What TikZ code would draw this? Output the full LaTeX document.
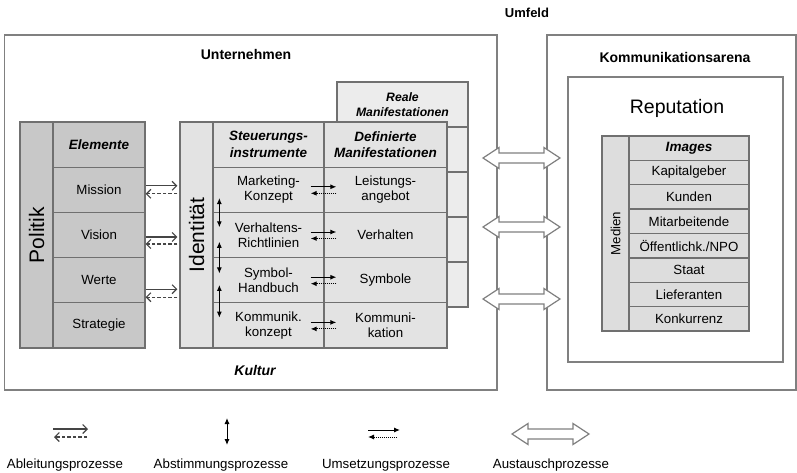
\documentclass[tikz,border=0pt]{standalone}
\usepackage{fontspec}
\setmainfont{Liberation Sans}
\usetikzlibrary{arrows.meta,calc}
\definecolor{lc}{HTML}{707070}
\definecolor{obox}{HTML}{808080}
\definecolor{polfill}{HTML}{C8C8C8}
\definecolor{idfill}{HTML}{E3E3E3}
\definecolor{refill}{HTML}{ECECEC}
\definecolor{medfill}{HTML}{DDDDDD}
\definecolor{arrc}{HTML}{454545}
\newcommand\xchgarrow[3]{%
  \draw[xarr] (#1,#3) -- (#1+16,#3-10.5) -- (#1+16,#3-5) -- (#2-16,#3-5) -- (#2-16,#3-10.5)
    -- (#2,#3) -- (#2-16,#3+10.5) -- (#2-16,#3+5) -- (#1+16,#3+5) -- (#1+16,#3+10.5) -- cycle;}
\tikzset{
 cell/.style={draw=lc, line width=1.3pt, inner sep=0pt, align=center, font=\fontsize{13.3}{15}\selectfont},
 hdr/.style={cell, font=\fontsize{13.5}{16.5}\selectfont\bfseries\itshape},
 big/.style={draw=obox, line width=1.3pt, inner sep=0pt},
 lbl/.style={font=\fontsize{14}{16}\selectfont\bfseries, anchor=base, inner sep=0pt},
 leg/.style={font=\fontsize{13.3}{15}\selectfont, anchor=base, inner sep=0pt},
 abl/.style={draw=arrc, line width=1.1pt, -{Straight Barb[length=4.5pt,width=9pt,line width=1.1pt]}},
 abldash/.style={abl, dash pattern=on 3.5pt off 2pt},
 ums/.style={draw=black, line width=1pt, -{Latex[length=6pt,width=5pt]}},
 umsdot/.style={ums, dash pattern=on 1pt off 1pt},
 abst/.style={draw=black, line width=1pt, {Latex[length=6pt,width=5pt]}-{Latex[length=6pt,width=5pt]}},
 xarr/.style={draw=obox, fill=white, line width=1.2pt, line join=miter},
}
\begin{document}
\begin{tikzpicture}[x=1pt,y=-1pt]
\useasboundingbox (0,0) rectangle (797,473);
\fill[white] (0,0) rectangle (797,473);

% outer boxes
\node[big, minimum width=492.5pt, minimum height=355pt] (unt) at (250.75,212.5) {};
\node[big, minimum width=249pt, minimum height=355pt] (arena) at (671.5,212.5) {};
\node[big, minimum width=215pt, minimum height=285pt] (repu) at (675.5,219.5) {};

% titles
\node[lbl, font=\fontsize{13}{15}\selectfont\bfseries] (umfeld) at (527,18) {Umfeld};
\node[lbl] (untt) at (246,60) {Unternehmen};
\node[lbl] (kat) at (675,63) {Kommunikationsarena};
\node[anchor=base, inner sep=0pt, font=\fontsize{19.5}{22}\selectfont] (rept) at (677,114) {Reputation};
\node[lbl, font=\fontsize{14}{16}\selectfont\bfseries\itshape] (kult) at (255,375) {Kultur};

% Reale Manifestationen (behind)
\node[hdr, fill=refill, minimum width=131pt, minimum height=45pt, font=\fontsize{12.2}{14.3}\selectfont\bfseries\itshape] (reale) at (402.5,104.5) {Reale\\Manifestationen};
\foreach \c/\nm in {149.5/r1,194.5/r2,239.5/r3,284.5/r4}
  \node[cell, fill=refill, minimum width=131pt, minimum height=45pt] (\nm) at (402.5,\c) {};

% Politik
\node[cell, fill=polfill, minimum width=33pt, minimum height=226pt] (polcol) at (36.5,235) {};
\node[rotate=90, inner sep=0pt, font=\fontsize{21}{24}\selectfont] (poltxt) at (polcol) {Politik};
\node[hdr, fill=polfill, minimum width=92pt, minimum height=45.2pt] (elem) at (99,144.6) {Elemente};
\node[cell, fill=polfill, minimum width=92pt, minimum height=45.2pt] (mis) at (99,189.8) {Mission};
\node[cell, fill=polfill, minimum width=92pt, minimum height=45.2pt] (vis) at (99,235) {Vision};
\node[cell, fill=polfill, minimum width=92pt, minimum height=45.2pt] (wer) at (99,280.2) {Werte};
\node[cell, fill=polfill, minimum width=92pt, minimum height=45.2pt] (str) at (99,325.4) {Strategie};

% Identitaet
\node[cell, fill=idfill, minimum width=33pt, minimum height=226pt] (idcol) at (196.5,235) {};
\node[rotate=90, inner sep=0pt, font=\fontsize{21}{24}\selectfont] (idtxt) at (idcol) {Identität};
\node[hdr, fill=idfill, minimum width=111pt, minimum height=45.2pt] (steu) at (268.5,144.6) {Steuerungs-\\instrumente};
\node[hdr, fill=idfill, minimum width=123pt, minimum height=45.2pt] (defm) at (385.5,144.6) {Definierte\\Manifestationen};
\node[cell, fill=idfill, minimum width=111pt, minimum height=45.2pt] (mk) at (268.5,189.8) {Marketing-\\Konzept};
\node[cell, fill=idfill, minimum width=123pt, minimum height=45.2pt] (la) at (385.5,189.8) {Leistungs-\\angebot};
\node[cell, fill=idfill, minimum width=111pt, minimum height=45.2pt] (vr) at (268.5,235) {Verhaltens-\\Richtlinien};
\node[cell, fill=idfill, minimum width=123pt, minimum height=45.2pt] (vh) at (385.5,235) {Verhalten};
\node[cell, fill=idfill, minimum width=111pt, minimum height=45.2pt] (sh) at (268.5,280.2) {Symbol-\\Handbuch};
\node[cell, fill=idfill, minimum width=123pt, minimum height=45.2pt] (sy) at (385.5,280.2) {Symbole};
\node[cell, fill=idfill, minimum width=111pt, minimum height=45.2pt] (kk) at (268.5,325.4) {Kommunik.\\konzept};
\node[cell, fill=idfill, minimum width=123pt, minimum height=45.2pt] (ko) at (385.5,325.4) {Kommuni-\\kation};

% Medien / Images
\node[cell, fill=medfill, minimum width=27pt, minimum height=195pt] (medcol) at (615.5,233.5) {};
\node[rotate=90, inner sep=0pt, font=\fontsize{13.3}{15}\selectfont] (medtxt) at (medcol) {Medien};
\node[hdr, fill=medfill, minimum width=120pt, minimum height=24.375pt] (img) at (689,148.19) {Images};
\foreach \c/\nm/\t in {172.56/i1/{Kapitalgeber}, 196.94/i2/{Kunden}, 221.31/i3/{Mitarbeitende}, 245.69/i4/{Öffentlichk./NPO}, 270.06/i5/{Staat}, 294.44/i6/{Lieferanten}, 318.81/i7/{Konkurrenz}}
  \node[cell, fill=medfill, minimum width=120pt, minimum height=24.375pt] (\nm) at (689,\c) {\t};

% Ableitungsprozesse
\draw[abl] ($(mis.east)+(0,-4)$) -- ($(mis.east -| idcol.west)+(-2,-4)$);
\draw[abldash] ($(mis.east -| idcol.west)+(-2,4)$) -- ($(mis.east)+(0,4)$);
\draw[abl] ($(vis.east)+(0,2)$) -- ($(vis.east -| idcol.west)+(-2,2)$);
\draw[abldash] ($(vis.east -| idcol.west)+(-2,9)$) -- ($(vis.east)+(0,9)$);
\draw[abl] ($(wer.east)+(0,9)$) -- ($(wer.east -| idcol.west)+(-2,9)$);
\draw[abldash] ($(wer.east -| idcol.west)+(-2,17)$) -- ($(wer.east)+(0,17)$);

% Abstimmungsprozesse
\draw[abst] ($(mk.south west)+(7,-15)$) -- ($(vr.north west)+(7,15.5)$);
\draw[abst] ($(vr.south west)+(7,-16.5)$) -- ($(sh.north west)+(7,16.5)$);
\draw[abst] ($(sh.south west)+(7,-18.5)$) -- ($(kk.north west)+(7,15.5)$);

% Umsetzungsprozesse
\foreach \a/\b in {mk/la, vr/vh, sh/sy, kk/ko}{
  \draw[ums] ($(\a.east)+(-14,-3)$) -- ($(\b.west)+(13,-3)$);
  \draw[umsdot] ($(\b.west)+(13,3.5)$) -- ($(\a.east)+(-14,3.5)$);
}

% Austauschprozesse
\xchgarrow{483}{560}{158}
\xchgarrow{483}{560}{227}
\xchgarrow{483}{560}{299}

% legend
\coordinate (la1) at (53,429); \coordinate (la2) at (88,429);
\coordinate (lb1) at (87,437); \coordinate (lb2) at (54,437);
\draw[abl] (la1) -- (la2);
\draw[abldash] (lb1) -- (lb2);
\coordinate (ab1) at (227,418); \coordinate (ab2) at (227,445);
\draw[abst] (ab1) -- (ab2);
\coordinate (um1) at (368,430); \coordinate (um2) at (400,430);
\coordinate (um3) at (397,437); \coordinate (um4) at (368,437);
\draw[ums] (um1) -- (um2);
\draw[umsdot] (um3) -- (um4);
\xchgarrow{512}{589}{434}

\node[leg] (l1) at (65,468) {Ableitungsprozesse};
\node[leg] (l2) at (221,468) {Abstimmungsprozesse};
\node[leg] (l3) at (386,468) {Umsetzungsprozesse};
\node[leg] (l4) at (551,468) {Austauschprozesse};
\end{tikzpicture}
\end{document}
